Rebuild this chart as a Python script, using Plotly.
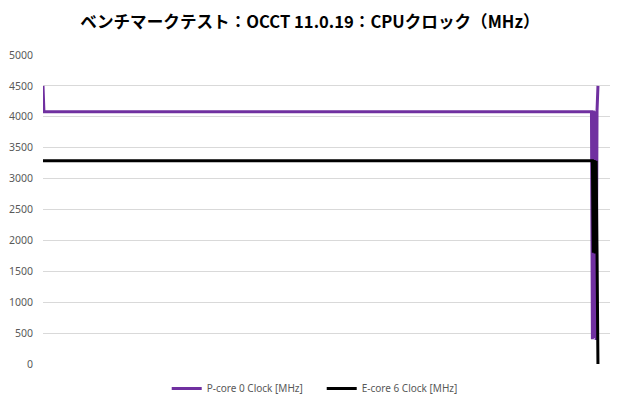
import plotly.graph_objs as go

# P-core 0 clock: start spike, long flat stretch, then the noisy tail at the end of the run
pcore_flat = [4080] * 592
pcore_tail = [400, 4100, 420, 4090, 390, 4100, 4500]
pcore_clock = [4500] + pcore_flat + pcore_tail

# E-core 6 clock: flat, then noisy tail dropping to 0
ecore_flat = [3290] * 594
ecore_tail = [1800, 3300, 1790, 3290, 1800, 0]
ecore_clock = ecore_flat + ecore_tail

y_ticks = [0, 500, 1000, 1500, 2000, 2500, 3000, 3500, 4000, 4500, 5000]

data = [
    go.Scatter(x=list(range(len(pcore_clock))), y=pcore_clock, mode="lines",
               name="P-core 0 Clock [MHz]",
               line=dict(color="#7030A0", width=3)),
    go.Scatter(x=list(range(len(ecore_clock))), y=ecore_clock, mode="lines",
               name="E-core 6 Clock [MHz]",
               line=dict(color="#000000", width=3)),
]

layout = dict(
    width=620, height=410,
    # page body adds ~8px offset, so margins are shifted to compensate
    margin=dict(l=35, r=18, t=47, b=54, autoexpand=False),
    paper_bgcolor="white", plot_bgcolor="white",
    font=dict(family="Noto Sans, Noto Sans CJK JP", size=10.5, color="#595959"),
    title=dict(text="<b>ベンチマークテスト：OCCT 11.0.19：CPUクロック（MHz）</b>",
               x=0.487, xanchor="center", y=0.966, yanchor="middle",
               font=dict(family="Noto Sans CJK JP", size=16.6, color="#000000")),
    xaxis=dict(range=[0, 612], showticklabels=False, showgrid=False,
               zeroline=False, showline=False, ticks="", automargin=False),
    yaxis=dict(range=[0, 5000], tickvals=y_ticks, showgrid=True,
               gridcolor="#d9d9d9", gridwidth=1, zeroline=False,
               showline=False, ticks="", ticklabelstandoff=9, automargin=False),
    legend=dict(orientation="h", xref="container", x=0.506, xanchor="center",
                y=-0.032, yanchor="top", entrywidth=110, entrywidthmode="pixels",
                font=dict(size=10, color="#595959")),
    showlegend=True,
)

fig = go.Figure(data=data, layout=layout)
fig.write_html("out.html")
